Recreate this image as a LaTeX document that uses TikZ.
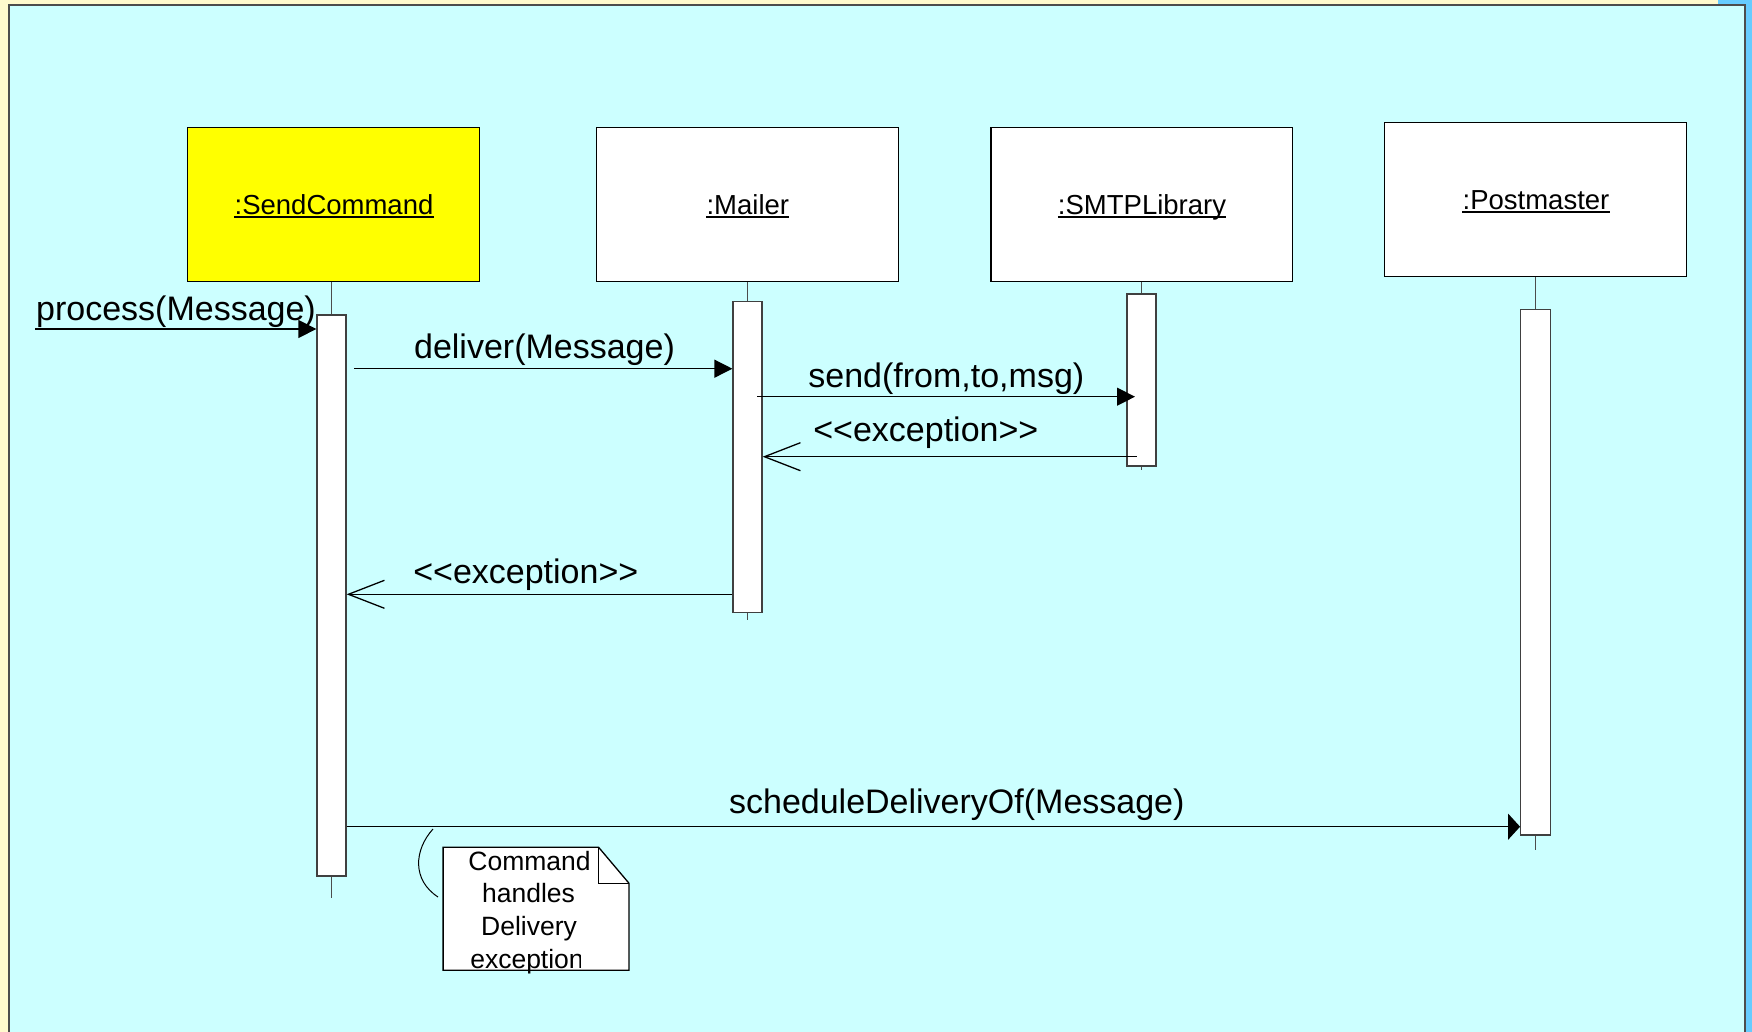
\documentclass[tikz,border=0pt]{standalone}
\usepackage{fontspec}
\setmainfont{Liberation Sans}
\usetikzlibrary{arrows.meta}
\definecolor{cream}{HTML}{FFFACD}
\definecolor{panelcol}{HTML}{CCFFFF}
\definecolor{edgeblue}{HTML}{66CCFF}
\definecolor{objyellow}{HTML}{FFFF00}
\begin{document}
\begin{tikzpicture}[x=1pt,y=-1pt,
  objbox/.style={draw=black,line width=1.3pt,fill=white,minimum height=154.2pt,inner sep=0pt,anchor=center},
  objlabel/.style={inner sep=0pt,anchor=base,font=\fontsize{27.5}{32}\selectfont},
  actbox/.style={draw=black!75,line width=1.3pt,fill=white,minimum width=29pt,inner sep=0pt,anchor=center},
  stem/.style={draw=black!70,line width=1.3pt},
  call/.style={draw=black,line width=1.3pt,-{Triangle[length=18pt,width=18pt]}},
  ret/.style={draw=black,line width=1.3pt,-{Straight Barb[length=36pt,width=28pt]}},
  msglabel/.style={inner sep=0pt,anchor=base,font=\fontsize{34}{40}\selectfont},
  notetext/.style={inner sep=0pt,anchor=base,font=\fontsize{26.5}{31}\selectfont},
  underl/.style={draw=black,line width=2pt}
]
\useasboundingbox (0,0) rectangle (1752,1032);
% background
\fill[cream] (0,0) rectangle (1752,1032);
\fill[panelcol] (9,5) rectangle (1745,1032);
\draw[black!70,line width=1.3pt] (9,1032) -- (9,5) -- (1745,5) -- (1745,1032);
\fill[edgeblue] (1746,0) rectangle (1752,1032);
\fill[edgeblue] (1718,0) rectangle (1752,4.5);

% objects
\node[objbox,fill=objyellow,minimum width=291.6pt] (sc) at (333.5,204.5) {};
\node[objbox,minimum width=301.7pt] (ml) at (747.5,204.5) {};
\node[objbox,minimum width=301.7pt] (sm) at (1141.9,204.5) {};
\node[objbox,minimum width=302.2pt] (pm) at (1535.4,199.4) {};

\node[objlabel] (scl) at (334,214.2) {:SendCommand};
\node[objlabel] (mll) at (747.8,214.2) {:Mailer};
\node[objlabel] (sml) at (1142,214.2) {:SMTPLibrary};
\node[objlabel] (pml) at (1536,209.2) {:Postmaster};
\foreach \n in {scl,mll,sml,pml}
  \draw[underl] ([yshift=-3pt]\n.base west) -- ([yshift=-3pt]\n.base east);

% activations
\node[actbox,minimum height=561pt] (actS) at (331.5,595.5) {};
\node[actbox,minimum height=310.6pt] (actM) at (747.5,457) {};
\node[actbox,minimum height=172pt] (actL) at (1141.5,380) {};
\node[actbox,minimum width=30pt,minimum height=525.5pt] (actP) at (1535.7,572.3) {};

% lifeline stems
\coordinate (endS) at (331.5,898);
\coordinate (endM) at (747.5,620);
\coordinate (endL) at (1141.5,470);
\coordinate (endP) at (1535.7,850);
\draw[stem] (actS.north |- sc.south) -- (actS.north);
\draw[stem] (actS.south) -- (endS);
\draw[stem] (actM.north |- ml.south) -- (actM.north);
\draw[stem] (actM.south) -- (endM);
\draw[stem] (actL.north |- sm.south) -- (actL.north);
\draw[stem] (actL.south) -- (endL);
\draw[stem] (actP.north |- pm.south) -- (actP.north);
\draw[stem] (actP.south) -- (endP);

% messages
\coordinate (pstart) at (35,329);
\draw[call] (pstart) -- (pstart -| actS.west);
\node[msglabel] (lp) at (176,320) {process(Message)};

\coordinate (dstart) at (354,368.7);
\draw[call] (dstart) -- (dstart -| actM.west);
\node[msglabel] (ld) at (544.5,358.5) {deliver(Message)};

\coordinate (sstart) at (757,396.7);
\coordinate (send) at (1135,396.7);
\draw[call] (sstart) -- (send);
\node[msglabel] (ls) at (946.3,387) {send(from,to,msg)};

\coordinate (e1start) at (1136.7,456.7);
\draw[ret] (e1start) -- (e1start -| actM.east);
\node[msglabel] (le1) at (925.8,441) {<{}<exception>{}>};

\coordinate (e2y) at (0,594.3);
\draw[ret] (actM.west |- e2y) -- (actS.east |- e2y);
\node[msglabel] (le2) at (525.8,583) {<{}<exception>{}>};

\coordinate (schy) at (0,826.7);
\draw[draw=black,line width=1.3pt,-{Triangle[length=12pt,width=26pt]}] (actS.east |- schy) -- (actP.west |- schy);
\node[msglabel] (lsch) at (956.8,813.5) {scheduleDeliveryOf(Message)};

% note
\node[minimum width=185.4pt,minimum height=122.7pt,inner sep=0pt] (note) at (536,908.7) {};
\fill[white,draw=black,line width=1.3pt] (note.north west) -- ([xshift=-30.4pt]note.north east)
  -- ([yshift=-36pt]note.north east) -- (note.south east) -- (note.south west) -- cycle;
\draw[black,line width=1.3pt] ([xshift=-30.4pt]note.north east) -- ([xshift=-30.4pt,yshift=-36pt]note.north east)
  -- ([yshift=-36pt]note.north east);
\node[notetext] (n1) at (529.5,870) {Command};
\node[notetext] (n2) at (528.5,902.7) {handles};
\node[notetext] (n3) at (529,935.4) {Delivery};
\begin{scope}
  \clip (440,940) rectangle (580,975);
  \node[notetext] (n4) at (527,968) {exception};
\end{scope}
\coordinate (cstart) at (438,897);
\coordinate (cend) at (433,829);
\draw[black,line width=1pt] (cstart) .. controls (412,880) and (414,850) .. (cend);
\end{tikzpicture}
\end{document}
